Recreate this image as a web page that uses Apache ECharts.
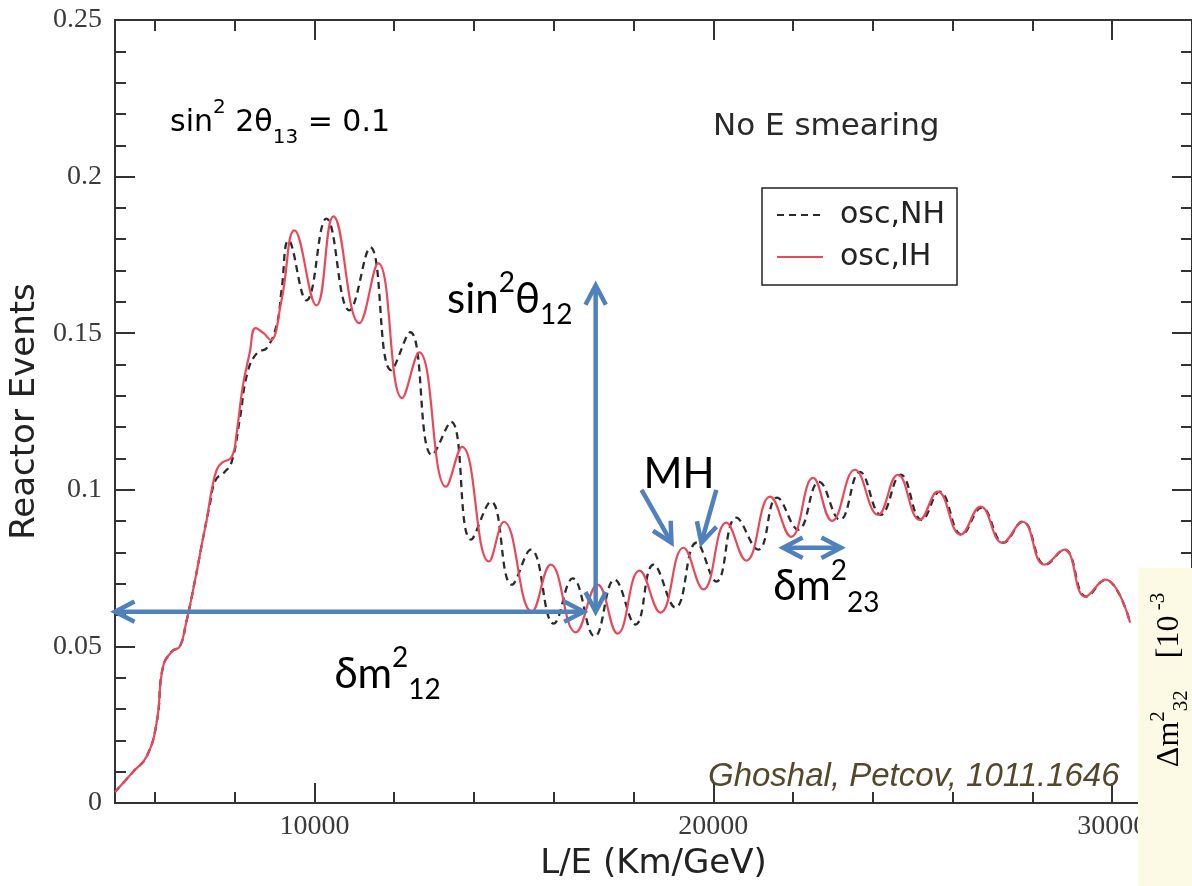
<!DOCTYPE html>
<html>
<head>
<meta charset="utf-8">
<script src="https://cdn.jsdelivr.net/npm/echarts@6/dist/echarts.min.js"></script>
<style>
  html, body { margin: 0; padding: 0; background: #ffffff; }
  #chart { width: 1192px; height: 886px; }
</style>
</head>
<body>
<div id="chart"></div>
<script>
// Reactor antineutrino event spectrum versus L/E, sin^2 2θ13 = 0.1, no energy smearing.
// Normal hierarchy (dashed) and inverted hierarchy (solid).

const nhL = [5000, 5450, 5800, 6050, 6200, 6425, 6625, 6775, 7000, 7200,
  7375, 7525, 7750, 7925, 8125, 8325, 8575, 8800, 9050, 9175,
  9350, 9800, 10300, 10875, 11400, 11925, 12400, 12950, 13425, 13925,
  14425, 14950, 15425, 16000, 16475, 17025, 17525, 18050, 18500, 19050,
  19575, 20075, 20575, 21125, 21600, 22125, 22650, 23175, 23675, 24200,
  24700, 25225, 25675, 26225, 26725, 27275, 27750, 28325, 28800, 29350,
  29825, 30450];
const nhEvents = [0.0035, 0.0099, 0.0150, 0.0261, 0.0433, 0.0484, 0.0500, 0.0570, 0.0707, 0.0841,
  0.0952, 0.1032, 0.1057, 0.1089, 0.1223, 0.1376, 0.1439, 0.1452, 0.1525, 0.1637,
  0.1796, 0.1605, 0.1866, 0.1573, 0.1774, 0.1382, 0.1503, 0.1111, 0.1217, 0.0841,
  0.0962, 0.0697, 0.0809, 0.0573, 0.0717, 0.0532, 0.0713, 0.0570, 0.0761, 0.0624,
  0.0831, 0.0707, 0.0911, 0.0809, 0.0975, 0.0873, 0.1025, 0.0904, 0.1057, 0.0920,
  0.1048, 0.0904, 0.0994, 0.0857, 0.0943, 0.0831, 0.0898, 0.0761, 0.0809, 0.0659,
  0.0713, 0.0576];

const ihL = [5000, 5450, 5800, 6050, 6200, 6425, 6625, 6775, 7000, 7200,
  7300, 7425, 7550, 7675, 7925, 8050, 8200, 8375, 8525, 8725,
  8900, 9175, 9500, 10050, 10475, 11125, 11600, 12200, 12625, 13300,
  13700, 14375, 14750, 15450, 15925, 16550, 17100, 17600, 18150, 18675,
  19250, 19750, 20325, 20825, 21425, 21950, 22500, 22975, 23550, 24125,
  24625, 25175, 25625, 26200, 26700, 27250, 27750, 28300, 28800, 29325,
  29825, 30450];
const ihEvents = [0.0035, 0.0099, 0.0150, 0.0261, 0.0433, 0.0484, 0.0500, 0.0570, 0.0707, 0.0841,
  0.0904, 0.1000, 0.1064, 0.1086, 0.1105, 0.1182, 0.1328, 0.1436, 0.1516, 0.1500,
  0.1478, 0.1605, 0.1828, 0.1589, 0.1873, 0.1532, 0.1723, 0.1293, 0.1439, 0.1010,
  0.1137, 0.0771, 0.0898, 0.0611, 0.0761, 0.0545, 0.0697, 0.0541, 0.0742, 0.0608,
  0.0815, 0.0682, 0.0895, 0.0774, 0.0978, 0.0850, 0.1038, 0.0901, 0.1064, 0.0920,
  0.1048, 0.0904, 0.0994, 0.0857, 0.0946, 0.0831, 0.0898, 0.0761, 0.0809, 0.0659,
  0.0713, 0.0576];

const seriesNames = ['osc,NH', 'osc,IH'];

// Annotation anchors, in data units (L/E, events)
const dm12Span = [[5000, 0.0611], [16750, 0.0611]];
const th12Span = [[17050, 0.0611], [17050, 0.1653]];
const mhArrows = [[[18200, 0.1000], [18950, 0.0831]], [[20075, 0.1000], [19700, 0.0831]]];
const dm23Span = [[21750, 0.0815], [23200, 0.0815]];
const labelAnchors = {
  th12: [13325, 0.1608],
  dm12: [10500, 0.0411],
  mh: [18250, 0.1048],
  dm23: [21500, 0.0691]
};

const AXIS = '#333333';
const tickFont = { fontFamily: '"Liberation Serif", serif', fontSize: 28, color: '#3a3a3a' };
const X_MIN = 5000, X_MAX = 32000;

function xAxisDef(position, step, tickLen, withLabels) {
  return {
    type: 'value', position: position, min: X_MIN, max: X_MAX,
    minInterval: step, maxInterval: step, splitNumber: Math.round((X_MAX - X_MIN) / step),
    axisLine: { show: true, onZero: false, lineStyle: { color: AXIS, width: 2 } },
    axisTick: { show: true, inside: true, length: tickLen, lineStyle: { color: AXIS, width: 2 } },
    axisLabel: withLabels ? Object.assign({
      show: true, margin: 10, showMinLabel: false, showMaxLabel: false,
      formatter: v => (v % 10000 === 0 ? String(v) : '')
    }, tickFont) : { show: false },
    splitLine: { show: false }
  };
}

function yAxisDef(position, withLabels) {
  return {
    type: 'value', position: position, min: 0, max: 0.25, interval: 0.05,
    axisLine: { show: true, onZero: false, lineStyle: { color: AXIS, width: 2 } },
    axisTick: { show: true, inside: true, length: 20, lineStyle: { color: AXIS, width: 2 } },
    minorTick: { show: true, splitNumber: 5, length: 11, lineStyle: { color: AXIS, width: 2 } },
    axisLabel: withLabels ? Object.assign({ show: true, margin: 13 }, tickFont) : { show: false },
    splitLine: { show: false }
  };
}

const chart = echarts.init(document.getElementById('chart'), null, { renderer: 'canvas' });

const xBottomMajor = xAxisDef('bottom', 10000, 20, true);
Object.assign(xBottomMajor, {
  name: 'L/E (Km/GeV)', nameLocation: 'middle', nameGap: 44,
  nameTextStyle: { fontFamily: '"DejaVu Sans", sans-serif', fontSize: 34, color: '#222' }
});
const yLeft = yAxisDef('left', true);
Object.assign(yLeft, {
  name: 'Reactor Events', nameLocation: 'middle', nameGap: 54,
  nameTextStyle: { fontFamily: '"DejaVu Sans", sans-serif', fontSize: 34, color: '#222' }
});

chart.setOption({
  animation: false,
  backgroundColor: '#ffffff',
  grid: { left: 115, width: 1080, top: 20, bottom: 82, containLabel: false },
  xAxis: [
    xBottomMajor,
    xAxisDef('bottom', 2000, 11, false),
    xAxisDef('top', 10000, 20, false),
    xAxisDef('top', 2000, 11, false)
  ],
  yAxis: [yLeft, yAxisDef('right', false)],
  legend: {
    data: seriesNames,
    orient: 'vertical',
    left: 762, top: 188,
    padding: [12, 12, 13, 14],
    itemWidth: 46, itemHeight: 14, itemGap: 12,
    itemStyle: { opacity: 0 },
    borderColor: '#222', borderWidth: 1.5, backgroundColor: '#fff',
    textStyle: { fontFamily: '"DejaVu Sans", sans-serif', fontSize: 30, lineHeight: 30, color: '#222', padding: [0, 0, 0, 12] }
  },
  series: [
    {
      name: seriesNames[0], type: 'line', xAxisIndex: 0, yAxisIndex: 0,
      data: nhL.map((x, i) => [x, nhEvents[i]]),
      symbol: 'none', smooth: 0.45,
      lineStyle: { color: '#2b2b2b', width: 2.3, type: [7, 5] },
      itemStyle: { color: '#2b2b2b' }, z: 3
    },
    {
      name: seriesNames[1], type: 'line', xAxisIndex: 0, yAxisIndex: 0,
      data: ihL.map((x, i) => [x, ihEvents[i]]),
      symbol: 'none', smooth: 0.45,
      lineStyle: { color: '#e8485a', width: 2.2 },
      itemStyle: { color: '#e8485a' }, z: 4
    }
  ]
});

// ---- annotations ----
const BLUE = '#4f81bd';
const px = p => chart.convertToPixel({ seriesIndex: 0 }, p);

function shaft(a, b) {
  return { type: 'polyline', z: 100, shape: { points: [a, b] },
    style: { stroke: BLUE, lineWidth: 4.5, fill: null, lineCap: 'butt' } };
}
function head(tip, from) {
  const dx = tip[0] - from[0], dy = tip[1] - from[1];
  const len = Math.hypot(dx, dy), ux = dx / len, uy = dy / len;
  const arm = 22, ang = 0.48;
  const rot = s => [tip[0] - arm * (ux * Math.cos(s * ang) - uy * Math.sin(s * ang)),
                    tip[1] - arm * (ux * Math.sin(s * ang) + uy * Math.cos(s * ang))];
  return { type: 'polyline', z: 100, shape: { points: [rot(1), tip, rot(-1)] },
    style: { stroke: BLUE, lineWidth: 4.5, fill: null, lineJoin: 'miter', lineCap: 'butt' } };
}
function doubleArrow(span) {
  const a = px(span[0]), b = px(span[1]);
  return [shaft(a, b), head(a, b), head(b, a)];
}
function singleArrow(pair) {
  const a = px(pair[0]), b = px(pair[1]);
  return [shaft(a, b), head(b, a)];
}

const annFont = 'Lato, "Noto Sans", sans-serif';
const annRich = {
  m: { fontFamily: annFont, fontSize: 42, lineHeight: 60, color: '#000' },
  sup: { fontFamily: annFont, fontSize: 28, lineHeight: 32, verticalAlign: 'top', color: '#000' },
  sub: { fontFamily: annFont, fontSize: 28, lineHeight: 38, verticalAlign: 'bottom', color: '#000' }
};
function annText(anchor, text) {
  const p = px(anchor);
  return { type: 'text', z: 100, x: p[0], y: p[1],
    style: { text: text, rich: annRich, align: 'left', verticalAlign: 'middle' } };
}

const graphics = []
  .concat(doubleArrow(dm12Span))
  .concat(doubleArrow(th12Span))
  .concat(singleArrow(mhArrows[0]))
  .concat(singleArrow(mhArrows[1]))
  .concat(doubleArrow(dm23Span));

graphics.push(annText(labelAnchors.th12, '{m|sin}{sup|2}{m|θ}{sub|12}'));
graphics.push(annText(labelAnchors.dm12, '{m|δm}{sup|2}{sub|12}'));
graphics.push(annText(labelAnchors.mh, '{m|MH}'));
graphics.push(annText(labelAnchors.dm23, '{m|δm}{sup|2}{sub|23}'));

const plotFont = '"DejaVu Sans", sans-serif';
graphics.push({
  type: 'text', z: 50, x: 170, y: 123,
  style: {
    text: '{m|sin}{sup|2}{m| 2θ}{sub|13}{m| = 0.1}',
    align: 'left', verticalAlign: 'middle',
    rich: {
      m: { fontFamily: plotFont, fontSize: 30, lineHeight: 50, color: '#2a2a2a' },
      sup: { fontFamily: plotFont, fontSize: 20, lineHeight: 34, verticalAlign: 'top', color: '#2a2a2a' },
      sub: { fontFamily: plotFont, fontSize: 20, lineHeight: 16, verticalAlign: 'bottom', color: '#2a2a2a' }
    }
  }
});
graphics.push({
  type: 'text', z: 50, x: 713, y: 127,
  style: { text: 'No E smearing', fontFamily: plotFont, fontSize: 31, fill: '#2a2a2a',
    align: 'left', verticalAlign: 'middle' }
});
graphics.push({
  type: 'text', z: 50, x: 708, y: 777,
  style: { text: 'Ghoshal, Petcov, 1011.1646', fontFamily: '"Liberation Sans", sans-serif',
    fontStyle: 'italic', fontSize: 33, fill: '#54482a', align: 'left', verticalAlign: 'middle' }
});

// pale side panel with a rotated axis caption
graphics.push({
  type: 'rect', z: 200, shape: { x: 1138, y: 568, width: 60, height: 330 },
  style: { fill: '#fcfae4', stroke: null }
});
graphics.push({
  type: 'text', z: 201, x: 1170, y: 680, rotation: Math.PI / 2,
  style: {
    text: '{m|Δm}{sup|2}{sub|32}{m|    [10}{sup| -3}',
    align: 'center', verticalAlign: 'middle',
    rich: {
      m: { fontFamily: '"Liberation Serif", serif', fontSize: 32, lineHeight: 44, color: '#2a2a2a' },
      sup: { fontFamily: '"Liberation Serif", serif', fontSize: 21, lineHeight: 24, verticalAlign: 'top', color: '#2a2a2a' },
      sub: { fontFamily: '"Liberation Serif", serif', fontSize: 21, lineHeight: 20, verticalAlign: 'bottom', color: '#2a2a2a' }
    }
  }
});

chart.setOption({ graphic: graphics });
</script>
</body>
</html>
